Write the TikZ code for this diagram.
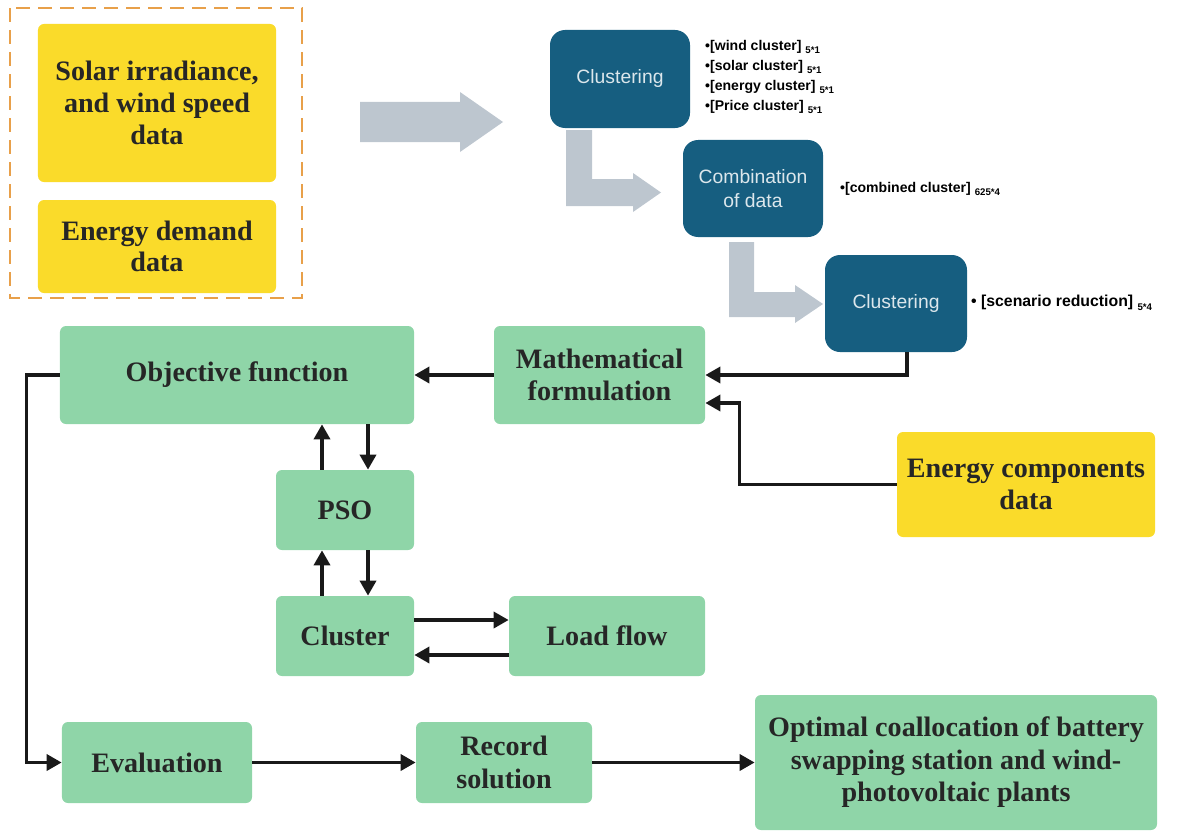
\documentclass[tikz,border=0pt]{standalone}
\usepackage{fontspec}
\setmainfont{Liberation Serif}
\setsansfont{Liberation Sans}
\usetikzlibrary{arrows.meta}

\definecolor{sunyellow}{RGB}{250,219,42}
\definecolor{mintgreen}{RGB}{143,213,168}
\definecolor{deepteal}{RGB}{22,94,128}
\definecolor{arrowgray}{RGB}{189,198,207}
\definecolor{dashorange}{RGB}{232,160,74}

\newcommand{\dimsub}[1]{\raisebox{-0.5ex}{\fontsize{5.5}{6}\selectfont #1}}

\begin{document}
\begin{tikzpicture}[x=0.2mm,y=-0.2mm,
		databox/.style={fill=sunyellow, rounded corners=1.2mm, align=center, text=black!85,
				font=\fontsize{16}{18}\selectfont\bfseries},
		stepbox/.style={fill=mintgreen, rounded corners=1.2mm, align=center, text=black!85,
				font=\fontsize{16}{18.5}\selectfont\bfseries},
		procbox/.style={fill=deepteal, rounded corners=3mm, align=center, text=white!85!deepteal,
				font=\sffamily\fontsize{11}{13.5}\selectfont},
		note/.style={anchor=west, align=left, font=\sffamily\bfseries\fontsize{8}{11.4}\selectfont},
		arr/.style={line width=2pt, black!90, -{Triangle[length=3mm,width=3.2mm]}},
	]
	\useasboundingbox (0,0) rectangle (1181,831);

	% Input data
	\draw[dashorange, line width=1.1pt, dash pattern=on 2.8mm off 1.6mm] (10,8) rectangle (302,298);
	\node[databox, minimum width=47.6mm, minimum height=31.6mm] (solar) at (157,103) {Solar irradiance,\\and wind speed\\data};
	\node[databox, minimum width=47.6mm, minimum height=18.6mm] (demand) at (157,246.5) {Energy demand\\data};

	% Big gray arrows
	\fill[arrowgray] (360,102) -- (460,102) -- (460,92) -- (503,122) -- (460,152) -- (460,142) -- (360,142) -- cycle;
	\fill[arrowgray] (566,130) -- (592,130) -- (592,179) -- (633,179) -- (633,173) -- (661,192.5)
		-- (633,212) -- (633,206) -- (566,206) -- cycle;
	\fill[arrowgray] (729,242) -- (754,242) -- (754,292) -- (795,292) -- (795,285) -- (823,304)
		-- (795,323) -- (795,317) -- (729,317) -- cycle;

	% Clustering steps
	\node[procbox, minimum width=28mm, minimum height=19.6mm] (clu1) at (620,79) {Clustering};
	\node[procbox, minimum width=28mm, minimum height=19.4mm] (comb) at (753,188.5) {Combination\\of data};
	\node[procbox, minimum width=28.4mm, minimum height=19.4mm] (clu2) at (896,303.5) {Clustering};

	% Cluster sizes
	\node[note] (clu1list) at (699,77) {•[wind cluster] \dimsub{5*1}\\•[solar cluster] \dimsub{5*1}\\•[energy cluster] \dimsub{5*1}\\•[Price cluster] \dimsub{5*1}};
	\node[note] (comblist) at (834,189) {•[combined cluster] \dimsub{625*4}};
	\node[note, font=\sffamily\bfseries\fontsize{9}{11}\selectfont] (clu2list) at (965,303) {• [scenario reduction] \dimsub{5*4}};

	% Optimisation loop
	\node[stepbox, minimum width=70.8mm, minimum height=19.6mm] (obj) at (237,375) {Objective function};
	\node[stepbox, minimum width=42.2mm, minimum height=19.6mm] (math) at (599.5,375) {Mathematical\\formulation};
	\node[databox, minimum width=51.6mm, minimum height=21mm] (comp) at (1026,484.5) {Energy components\\data};
	\node[stepbox, minimum width=27.6mm, minimum height=16mm] (pso) at (345,510) {PSO};
	\node[stepbox, minimum width=27.6mm, minimum height=16mm] (cluster) at (345,636) {Cluster};
	\node[stepbox, minimum width=39.2mm, minimum height=16mm] (load) at (607,636) {Load flow};
	\node[stepbox, minimum width=38mm, minimum height=16.2mm] (eval) at (157,762.5) {Evaluation};
	\node[stepbox, minimum width=35.2mm, minimum height=16.2mm] (record) at (504,762.5) {Record\\solution};
	\node[stepbox, minimum width=80.4mm, minimum height=27mm] (opt) at (956,762.5) {Optimal coallocation of battery\\swapping station and wind-\\photovoltaic plants};

	% Connectors
	\draw[arr] ([xshift=2.2mm]clu2.south) |- (math.east);
	\draw[arr] (comp.west) -- ++(-157,0) |- ([yshift=-5.6mm]math.east);
	\draw[arr] (math.west) -- (obj.east);
	\draw[arr] ([xshift=-4.6mm]pso.north) -- ([xshift=-4.6mm]pso.north |- obj.south);
	\draw[arr] ([xshift=4.6mm]pso.north |- obj.south) -- ([xshift=4.6mm]pso.north);
	\draw[arr] ([xshift=-4.6mm]cluster.north) -- ([xshift=-4.6mm]pso.south);
	\draw[arr] ([xshift=4.6mm]pso.south) -- ([xshift=4.6mm]cluster.north);
	\draw[arr] ([yshift=3.2mm]cluster.east) -- ([yshift=3.2mm]load.west);
	\draw[arr] ([yshift=-3.8mm]load.west) -- ([yshift=-3.8mm]cluster.east);
	\draw[arr] (obj.west) -- ++(-33,0) |- (eval.west);
	\draw[arr] (eval.east) -- (record.west);
	\draw[arr] (record.east) -- (opt.west);
\end{tikzpicture}
\end{document}
